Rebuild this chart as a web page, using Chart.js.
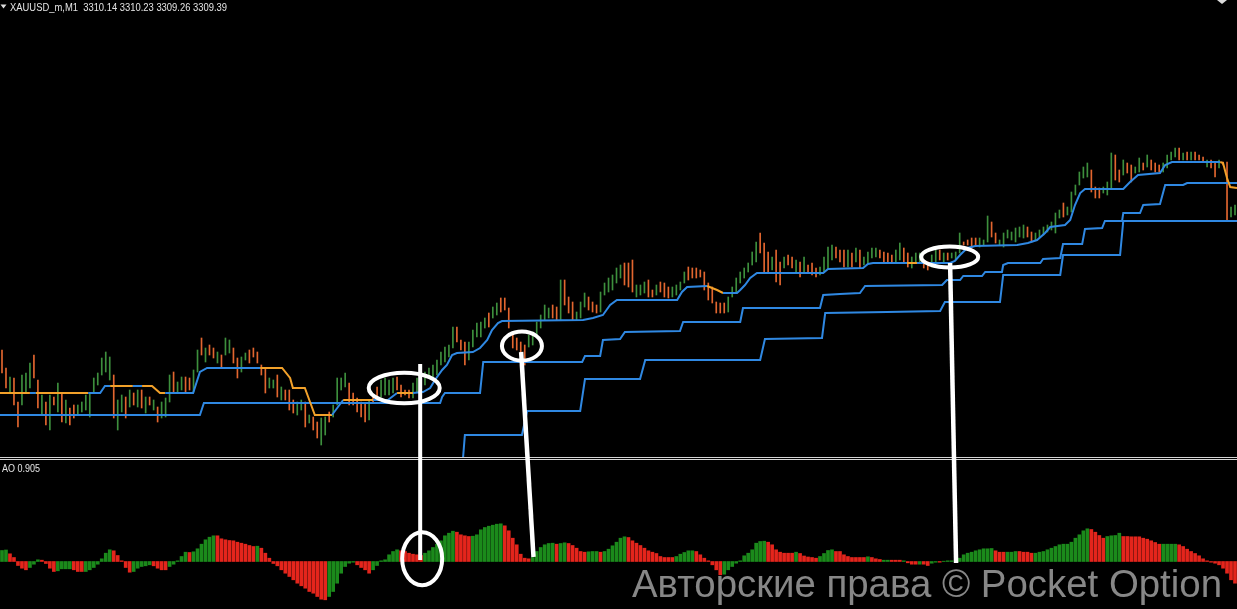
<!DOCTYPE html>
<html><head><meta charset="utf-8">
<script src="https://cdn.jsdelivr.net/npm/chart.js@4.4.1/dist/chart.umd.min.js"></script>
<style>
html,body{margin:0;padding:0;background:#000;overflow:hidden;}
#wrap{position:relative;width:1237px;height:609px;background:#000;}
#top{position:absolute;left:0;top:0;}
#bot{position:absolute;left:0;top:461px;}
#ov{position:absolute;left:0;top:0;pointer-events:none;}
.sep{position:absolute;left:0;width:1237px;height:1px;background:#d4d4d4;}
</style></head><body>
<div id="wrap">
<canvas id="top" width="1237" height="457"></canvas>
<div class="sep" style="top:457px"></div>
<div class="sep" style="top:459px"></div>
<canvas id="bot" width="1237" height="148"></canvas>
<svg id="ov" width="1237" height="609" xmlns="http://www.w3.org/2000/svg">
<polygon points="0.5,4.5 6.5,4.5 3.5,8.5" fill="#dcdcdc"/>
<text x="10" y="10.5" font-family="Liberation Sans, Arial, sans-serif" font-size="10" fill="#e4e4e4" textLength="217" lengthAdjust="spacingAndGlyphs" xml:space="preserve" style="white-space:pre">XAUUSD_m,M1  3310.14 3310.23 3309.26 3309.39</text>
<polygon points="1217,0 1227,0 1222,4" fill="#dcdcdc"/>
<text x="2" y="471.5" font-family="Liberation Sans, Arial, sans-serif" font-size="10" fill="#e4e4e4" textLength="38" lengthAdjust="spacingAndGlyphs">AO 0.905</text>
<g id="marks" fill="none" stroke="#ffffff" stroke-linecap="butt"></g>
<text x="1222" y="597" text-anchor="end" font-family="Liberation Sans, Arial, sans-serif" font-size="38.4" fill="#878787" textLength="590" lengthAdjust="spacingAndGlyphs">Авторские права © Pocket Option</text>
</svg>
</div>
<script>
// ---- price bars (M1) ----
const candleHigh = [
3295.0,3293.2,3292.3,3292.2,3289.8,3292.5,3292.7,3293.7,3294.5,3292.0,
3290.5,3289.8,3290.5,3290.3,3291.7,3290.7,3290.0,3289.2,3289.5,3289.5,
3289.8,3290.5,3290.7,3292.2,3292.7,3294.2,3294.8,3294.3,3292.5,3290.0,
3290.5,3290.3,3291.0,3290.7,3291.0,3291.0,3290.3,3290.3,3290.0,3289.3,
3289.8,3290.2,3292.5,3292.8,3291.8,3292.3,3292.3,3292.2,3293.0,3295.0,
3296.2,3295.2,3295.5,3295.2,3294.8,3294.5,3296.2,3296.0,3295.2,3294.2,
3294.3,3294.7,3295.0,3295.2,3294.8,3293.5,3293.2,3292.2,3292.0,3292.5,
3291.3,3291.0,3291.0,3290.0,3289.8,3290.0,3289.8,3288.5,
3288.3,3287.8,3288.2,3288.3,3288.8,3289.5,3292.2,3292.2,3292.7,3291.7,
3290.7,3290.2,3289.8,3289.7,3290.0,3290.5,3291.3,3292.0,3292.2,3292.0,
3292.2,3292.3,3291.5,3291.0,3291.0,3291.7,3292.2,3292.2,3292.8,3293.2,
3293.5,3294.0,3294.8,3295.3,3295.5,3297.3,3297.3,3296.0,3295.8,3295.8,
3297.0,3297.7,3297.8,3298.2,3298.7,3299.3,3299.7,3300.2,3300.2,3299.2,
3296.8,3296.2,3295.8,3295.5,3296.5,3296.8,3297.8,3298.5,3299.5,3299.2,
3299.5,3299.3,3302.0,3302.0,3300.3,3299.8,3298.8,3299.8,3300.7,3300.3,
3299.8,3299.5,3300.8,3301.7,3302.2,3302.5,3303.2,3303.5,
3303.7,3303.7,3304.0,3301.5,3301.5,3301.8,3302.0,3301.0,3301.5,3301.8,
3301.7,3301.3,3301.3,3301.5,3301.8,3302.8,3303.3,3303.2,3303.2,3303.0,
3302.8,3301.7,3301.3,3299.8,3299.7,3299.7,3300.3,3301.3,3302.2,3302.8,
3303.2,3303.7,3304.8,3305.8,3306.7,3305.7,3304.8,3304.3,3305.0,3303.8,
3304.3,3304.5,3304.3,3304.0,3303.8,3304.3,3303.5,3303.7,3303.2,3303.3,
3304.3,3305.3,3305.5,3305.3,3305.0,3305.0,3305.0,3304.7,3305.2,3305.0,
3304.3,3304.8,3305.2,3305.2,3305.0,3304.8,3304.7,3304.5,3305.0,3305.7,
3305.2,3304.7,3304.3,3304.7,3304.7,3303.8,3303.8,3304.5,
3305.0,3305.0,3304.7,3304.7,3304.7,3304.8,3306.7,3305.8,3306.0,3306.2,
3306.2,3306.2,3306.0,3308.4,3307.8,3306.7,3306.0,3306.7,3307.0,3306.8,
3307.2,3307.3,3307.5,3307.3,3306.8,3306.7,3307.0,3307.3,3307.5,3307.8,
3308.7,3309.0,3309.7,3309.3,3310.8,3311.5,3312.8,3313.3,3313.7,3313.0,
3311.3,3311.2,3311.3,3311.8,3314.7,3314.5,3313.0,3314.0,3313.7,3313.5,
3313.3,3314.2,3313.7,3314.5,3314.0,3313.7,3313.5,3313.7,3314.5,3314.8,
3315.2,3315.2,3314.7,3314.8,3314.8,3314.8,3314.5,3314.3,3314.0,3314.0,
3313.7,3314.0,3313.8,3313.8,3309.3,3309.5];
const candleLow = [
3292.7,3291.2,3290.7,3289.5,3287.3,3289.5,3290.8,3291.2,3292.2,3289.2,
3288.5,3287.5,3287.0,3289.5,3288.8,3287.8,3287.7,3287.5,3288.2,3288.5,
3288.8,3289.0,3288.3,3290.8,3291.5,3292.5,3292.8,3292.0,3288.2,3287.0,
3288.8,3288.2,3289.3,3289.5,3289.3,3289.2,3288.7,3289.5,3289.0,3287.8,
3288.2,3288.3,3289.8,3290.7,3290.7,3291.0,3290.8,3291.0,3290.8,3292.8,
3294.5,3293.8,3294.5,3294.2,3293.7,3293.3,3294.5,3294.7,3293.7,3292.2,
3292.8,3294.0,3293.7,3294.3,3293.7,3292.5,3290.7,3291.2,3291.2,3290.3,
3290.0,3290.0,3289.0,3288.7,3288.5,3289.0,3287.3,3287.7,
3287.0,3286.2,3285.5,3286.5,3287.8,3288.3,3289.5,3291.0,3291.3,3289.5,
3289.5,3288.8,3288.3,3287.8,3288.0,3289.8,3290.3,3290.3,3290.5,3290.5,
3290.7,3291.0,3290.3,3290.5,3290.2,3290.2,3290.8,3291.0,3291.5,3292.2,
3292.0,3292.5,3293.5,3293.8,3294.3,3295.2,3295.8,3295.0,3293.5,3294.0,
3295.3,3296.3,3296.3,3297.2,3297.3,3298.2,3298.5,3298.8,3299.0,3297.2,
3295.2,3295.0,3294.5,3293.5,3295.3,3295.5,3296.3,3297.2,3298.0,3298.2,
3298.2,3298.0,3298.0,3299.5,3298.7,3298.0,3298.0,3298.2,3299.3,3299.0,
3298.8,3298.7,3298.8,3300.5,3300.8,3301.0,3301.7,3302.2,
3301.5,3301.3,3300.8,3300.3,3300.5,3300.7,3300.3,3300.3,3300.5,3300.8,
3300.3,3300.2,3300.3,3300.5,3301.0,3301.7,3302.0,3302.2,3302.2,3302.3,
3301.0,3300.0,3299.7,3298.7,3298.7,3298.7,3298.8,3300.3,3300.8,3301.7,
3302.2,3302.8,3303.5,3303.8,3304.7,3302.8,3302.8,3303.0,3301.8,3301.5,
3303.2,3303.5,3303.2,3302.8,3302.3,3302.8,3302.7,3302.5,3302.3,3302.5,
3302.8,3303.2,3304.0,3304.2,3303.8,3303.3,3303.3,3303.3,3303.8,3303.2,
3303.5,3303.7,3304.2,3304.3,3304.2,3303.8,3303.8,3303.7,3303.8,3304.0,
3303.8,3303.3,3303.2,3303.8,3303.7,3303.2,3303.0,3303.3,
3303.7,3304.0,3303.8,3304.0,3304.2,3304.0,3304.7,3305.5,3305.5,3305.2,
3305.5,3305.3,3305.5,3305.8,3306.3,3305.7,3305.5,3305.3,3306.2,3306.0,
3305.8,3306.3,3306.2,3306.3,3305.8,3306.0,3306.3,3306.5,3306.8,3307.0,
3306.7,3308.2,3308.3,3308.5,3308.8,3310.5,3311.5,3312.2,3312.3,3310.8,
3310.2,3310.2,3310.7,3310.5,3311.2,3312.0,3311.8,3312.5,3312.7,3311.8,
3312.7,3312.8,3313.0,3313.3,3313.0,3312.8,3312.8,3312.8,3313.2,3314.0,
3314.3,3314.0,3314.0,3314.0,3314.0,3314.0,3314.0,3313.8,3313.3,3313.2,
3312.3,3313.2,3313.5,3308.0,3308.3,3308.5];
const candleDir =
"ddudduuudd"+"ududududdu"+"uuuuuuuudu"+"ududududud"+"uuuduudduu"+"dudduduudd"+"uuddddduud"+"uddduudu"+
"dduuduuuud"+"ddddudduuu"+"udddduuuuu"+"uuuuuudddu"+"uuuuduuddd"+"dddduuuuuu"+"dduddduuud"+"dduuuuuu"+
"ddduuuddud"+"dduuuudddd"+"dddddduuuu"+"uuuudddudd"+"uddududddu"+"uuudddudud"+"uuuudddduu"+"dduuuddu"+
"ududuuuddd"+"duuudduuuu"+"uuudduuuuu"+"uuduuuuuud"+"dduuuddudd"+"uududdduuu"+"udududddud"+"dudduu";

// ---- trailing lines: vertices as [bar index, price] ----
const l1X = [-0.5,7.0,8.5,21.6,24.6,25.8,27.1,32.8,35.1,37.6,39.6,40.9,47.9,49.6,51.4,52.1,64.7,70.2,72.2,72.9,
75.9,77.2,78.4,82.7,85.5,93.0,96.7,99.0,103.0,105.5,107.3,108.5,110.3,111.5,112.8,114.0,118.0,119.8,121.6,122.8,
124.3,125.3,145.6,148.1,150.6,152.4,154.1,169.2,170.4,171.7,176.7,179.2,180.7,184.2,185.0,186.2,187.5,189.2,205.8,207.0,
215.8,217.0,218.3,226.8,229.3,237.6,238.8,240.1,241.9,243.9,254.4,257.1,259.4,261.4,262.7,266.4,267.7,268.9,270.2,271.4,
281.0,282.7,284.7,290.2,291.5,293.2,305.3,306.0,307.0,307.8,309.5];
const l1Y = [3290.7,3290.7,3290.7,3290.7,3290.7,3291.4,3291.4,3291.4,3291.4,3291.4,3290.7,3290.7,3290.7,3292.8,3293.2,3293.2,3293.2,3293.2,3292.2,3291.2,
3291.2,3289.8,3288.5,3288.5,3290.0,3290.0,3290.0,3290.7,3290.7,3290.8,3291.2,3292.0,3293.0,3293.5,3294.5,3294.7,3294.8,3295.2,3296.0,3297.0,
3297.7,3297.9,3298.0,3298.2,3298.5,3299.5,3300.0,3300.0,3300.8,3301.3,3301.4,3301.0,3300.7,3300.7,3301.0,3301.5,3302.2,3302.7,3302.7,3303.1,
3303.2,3303.6,3303.7,3303.7,3303.7,3303.7,3303.9,3304.5,3305.2,3305.4,3305.5,3305.7,3306.0,3306.7,3307.3,3307.5,3308.0,3309.5,3310.7,3311.1,
3311.1,3311.8,3312.5,3312.7,3313.5,3313.8,3313.8,3313.7,3312.2,3311.3,3311.2];
const l1Tone = "obobbboboo"+"obbbbboooo"+"ooobobbobb"+"bbbbbbbbbb"+"bbbbbbbbbb"+"oobbbbbbbb"+"bbbobbbbbb"+"bbbbbbbbbb"+"bbbbbboooo"+"o";
const l2X = [-0.5,49.6,50.6,109.8,110.3,111.0,119.8,120.6,145.4,146.1,149.9,150.6,154.9,156.1,169.9,170.7,185.0,185.7,205.0,205.8,
210.0,215.0,216.3,235.6,236.8,240.1,240.9,245.6,246.4,250.6,250.9,252.1,260.2,260.9,265.2,265.9,270.7,271.4,275.7,276.4,
280.7,281.0,285.2,286.0,290.2,291.5,296.0,297.0,309.5];
const l2Y = [3288.5,3288.5,3289.7,3289.7,3290.3,3290.7,3290.7,3293.8,3293.8,3294.4,3294.4,3296.0,3296.1,3296.8,3296.9,3297.8,3297.8,3299.2,3299.2,3300.5,
3300.6,3300.7,3301.4,3301.5,3302.0,3302.0,3302.4,3302.4,3302.8,3302.8,3303.5,3303.7,3303.7,3304.1,3304.2,3305.6,3305.6,3307.1,3307.2,3307.9,
3307.9,3308.7,3308.7,3309.5,3309.6,3311.5,3311.5,3311.7,3311.7];
const l3X = [115.3,116.0,130.3,131.6,144.9,146.1,159.9,161.2,190.0,191.2,205.5,206.3,221.8,235.1,236.3,250.1,250.9,265.2,265.9,280.2,281.0,309.5];
const l3Y = [3283.0,3286.5,3286.5,3288.9,3288.9,3292.1,3292.1,3294.0,3294.0,3296.1,3296.2,3298.7,3298.8,3298.9,3299.8,3299.8,3302.5,3302.5,3304.5,3304.5,3307.9,3307.9];

// ---- Awesome Oscillator ----
const aoValues = [
1.1,1.15,0.77,0.4,-0.4,-0.67,-0.83,-0.6,-0.27,0.17,
0.13,-0.2,-0.67,-1.0,-0.93,-0.73,-0.73,-0.73,-0.83,-1.0,
-1.0,-1.0,-0.83,-0.6,-0.27,0.27,0.83,1.17,1.07,0.6,
0.07,-0.6,-1.07,-1.0,-0.67,-0.5,-0.43,-0.33,-0.43,-0.67,
-0.83,-0.83,-0.5,-0.27,0.07,0.5,0.93,0.9,0.97,1.27,
1.73,2.17,2.43,2.57,2.57,2.27,2.17,2.1,2.07,1.93,
1.83,1.73,1.6,1.5,1.53,1.33,0.83,0.33,-0.2,-0.43,
-0.83,-1.17,-1.5,-1.83,-2.17,-2.43,-2.67,-3.0,-3.17,-3.5,
-3.77,-3.83,-3.5,-3.0,-2.17,-1.17,-0.5,-0.17,-0.07,-0.33,
-0.6,-0.83,-1.17,-0.83,-0.4,0.07,0.17,0.67,1.0,1.17,
1.07,1.0,0.83,0.73,0.67,0.6,0.83,1.07,1.4,1.73,
2.07,2.57,2.83,3.03,2.93,2.67,2.57,2.5,2.53,2.67,
3.17,3.4,3.53,3.63,3.73,3.77,3.57,3.07,2.33,1.67,
0.73,0.33,0.27,0.4,1.0,1.4,1.67,1.8,1.83,1.73,
1.8,1.87,1.8,1.6,1.33,1.0,0.93,0.97,1.0,1.0,
0.93,1.0,1.23,1.57,1.93,2.33,2.47,2.4,2.07,1.83,
1.6,1.33,1.07,0.93,0.8,0.5,0.4,0.4,0.4,0.5,
0.73,0.9,1.07,1.07,1.0,0.67,0.33,0.07,-0.33,-0.83,
-1.33,-1.27,-0.83,-0.5,-0.17,0.07,0.57,0.83,1.17,1.83,
2.0,2.03,1.93,1.67,1.17,0.93,0.83,0.83,0.83,0.93,
0.8,0.55,0.45,0.4,0.33,0.5,0.8,1.1,1.17,1.0,
1.0,0.67,0.5,0.4,0.4,0.4,0.4,0.47,0.4,0.27,
0.2,0.13,0.13,0.13,0.13,0.13,0.07,-0.13,-0.27,-0.27,
-0.27,-0.27,-0.4,-0.17,-0.07,-0.07,0.03,0.07,0.07,0.07,
0.33,0.67,0.83,0.93,1.07,1.17,1.27,1.27,1.3,1.07,
0.93,0.93,0.93,0.93,1.0,1.0,0.93,0.93,0.83,0.83,
0.93,1.0,1.17,1.33,1.5,1.67,1.73,1.73,1.93,2.33,
2.67,3.07,3.27,3.2,2.93,2.6,2.33,2.5,2.57,2.6,
2.83,2.5,2.5,2.47,2.47,2.47,2.33,2.23,2.07,1.9,
1.73,1.73,1.73,1.73,1.73,1.67,1.5,1.23,1.0,0.8,
0.57,0.27,0.07,-0.07,-0.17,-0.33,-0.67,-1.17,-1.83,-2.17];
const aoDir =
"ggrrrrrggg"+"rrrrggggrr"+"rgggggggrr"+"rrrgggggrr"+"rrgggggrgg"+"ggggrrrrrr"+"rrrrgrrrrr"+"rrrrrrrrrr"+
"rrgggggggr"+"rrrggggggg"+"rrrrrrgggg"+"ggggrrrrgg"+"ggggggrrrr"+"rrrggggggr"+"ggrrrrrggg"+"rggggggrrr"+
"rrrrrrrrrg"+"ggggrrrrrr"+"rggggggggg"+"ggrrrrrrrg"+"rrrrrggggr"+"rrrrrrrgrr"+"rggrrrgrrr"+"grrggrgggg"+
"gggggggggr"+"rrgggrrrrg"+"gggggggggg"+"gggrrrrggg"+"grrrrrrrrr"+"rggggrrrrr"+"rrrrrrrrrr";

// ---- hand-drawn marks anchored to the data ----
const ringsPrice = [[100.8, 3291.2, 35.5, 15.3], [130.3, 3295.4, 20, 14.5], [237.5, 3304.3, 28.5, 10.5]];
const ringsAO = [[105.3, 0.27, 20, 26.5]];
const strokes = [[104.8, 3293.6, 104.8, 0.15, 4], [130.1, 3294.8, 133.2, 0.45, 4.5], [237.6, 3303.7, 239.1, -0.15, 4.5]];

const UP='#3d8f3d', DOWN='#e2662f', BLUE='#2f88e2', ORANGE='#f2a12a', AOG='#1b8a1b', AOR='#e4251c';
const xScale = {type:'linear', min:-0.5, max:309.5, display:false, offset:false};
const common = {responsive:false, animation:false, devicePixelRatio:1, events:[],
  layout:{padding:0}, plugins:{legend:{display:false}, tooltip:{enabled:false}}};

const idx = candleHigh.map((_, i) => i);
const lineDs = (xs, ys, extra) => Object.assign({type:'line', data: xs.map((x, i) => ({x, y: ys[i]})),
  borderColor: BLUE, borderWidth: 2, pointRadius: 0, tension: 0, order: 1}, extra || {});

const topChart = new Chart(document.getElementById('top'), {
  type:'bar',
  data:{datasets:[
    lineDs(l3X, l3Y),
    lineDs(l2X, l2Y),
    lineDs(l1X, l1Y, {order:0, segment:{borderColor: c => l1Tone[c.p0DataIndex] === 'o' ? ORANGE : BLUE}}),
    {type:'bar', order:2, data: idx.map(i => ({x:i, y:[candleLow[i], candleHigh[i]]})),
     backgroundColor: idx.map(i => candleDir[i] === 'u' ? UP : DOWN), barThickness:1}
  ]},
  options: Object.assign({}, common, {scales:{x: xScale, y:{min:3284.3, max:3330, display:false}}})
});

const botChart = new Chart(document.getElementById('bot'), {
  type:'bar',
  data:{datasets:[{data: aoValues.map((v, i) => ({x:i, y:v})),
    backgroundColor: aoValues.map((v, i) => aoDir[i] === 'g' ? AOG : AOR), barThickness:3}]},
  options: Object.assign({}, common, {scales:{x: xScale, y:{min:-4.75, max:10.05, display:false}}})
});

// overlay marks
const NS = 'http://www.w3.org/2000/svg';
const g = document.getElementById('marks');
function pt(chart, x, y){ return [chart.scales.x.getPixelForValue(x) + chart.canvas.offsetLeft, chart.scales.y.getPixelForValue(y) + chart.canvas.offsetTop]; }
function ell(p, rx, ry){ const e = document.createElementNS(NS,'ellipse'); e.setAttribute('cx',p[0]); e.setAttribute('cy',p[1]); e.setAttribute('rx',rx); e.setAttribute('ry',ry); e.setAttribute('stroke-width',4); g.appendChild(e); }
ringsPrice.forEach(r => ell(pt(topChart, r[0], r[1]), r[2], r[3]));
ringsAO.forEach(r => ell(pt(botChart, r[0], r[1]), r[2], r[3]));
strokes.forEach(s => { const a = pt(topChart, s[0], s[1]), b = pt(botChart, s[2], s[3]);
  const l = document.createElementNS(NS,'line'); l.setAttribute('x1',a[0]); l.setAttribute('y1',a[1]); l.setAttribute('x2',b[0]); l.setAttribute('y2',b[1]); l.setAttribute('stroke-width', s[4]); g.appendChild(l); });
</script>
</body></html>
